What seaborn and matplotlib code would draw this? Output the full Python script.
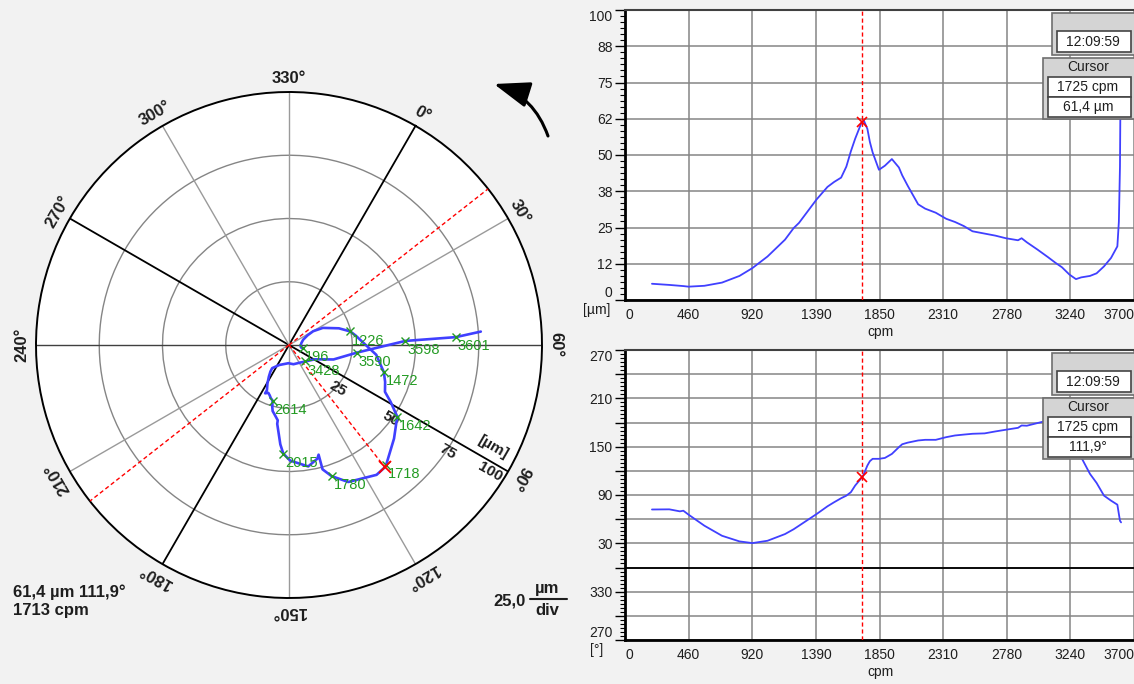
import numpy as np
import pandas as pd
import seaborn as sns
import matplotlib.pyplot as plt
from matplotlib.lines import Line2D
from matplotlib.patches import Rectangle
from matplotlib.ticker import AutoMinorLocator

# --- run-up data ---
cpm = [196, 322, 399, 424, 462, 577, 705, 832, 926, 1036, 1163, 1226, 1265, 1393,
       1472, 1520, 1571, 1609, 1642, 1673, 1718, 1725, 1736, 1762, 1780, 1800, 1846,
       1889, 1940, 1991, 2015, 2055, 2131, 2182, 2259, 2335, 2399, 2463, 2526, 2614,
       2692, 2768, 2857, 2883, 2921, 2998, 3074, 3130, 3176, 3230, 3278, 3316, 3380,
       3428, 3482, 3533, 3579, 3590, 3598, 3601, 3606]
amp_um = [5.6, 5.2, 4.9, 4.8, 4.6, 4.9, 6.0, 8.3, 11.0, 15.0, 20.8, 24.8, 26.6, 34.7,
          39.0, 40.7, 42.2, 46.0, 51.3, 55.6, 61.0, 61.4, 61.9, 59.0, 54.5, 50.9, 44.9,
          46.3, 48.6, 45.7, 43.0, 39.4, 33.0, 31.5, 30.1, 28.0, 26.9, 25.5, 23.7, 22.9,
          22.2, 21.3, 20.6, 21.3, 19.9, 17.4, 14.8, 12.8, 11.3, 8.8, 7.2, 7.8, 8.3,
          9.2, 11.6, 14.5, 18.5, 27.0, 46.0, 66.0, 76.0]
phase_deg = [72.0, 72.2, 69.7, 70.5, 65.6, 51.9, 39.4, 32.4, 30.3, 33.2, 41.5, 47.5, 51.9, 66.4,
             76.0, 81.0, 86.0, 89.2, 93.5, 101.7, 111.0, 111.9, 116.0, 126.6, 132.0, 134.9, 134.9,
             136.0, 141.0, 149.4, 153.0, 155.0, 157.7, 158.5, 158.5, 161.8, 163.9, 165.0, 166.0, 166.5,
             168.9, 171.0, 173.4, 176.3, 176.0, 179.3, 182.5, 185.0, 186.0, 176.0, 152.0, 136.9, 116.2,
             105.0, 89.2, 83.0, 78.0, 66.4, 58.0, 57.3, 56.0]

# speeds tagged on the polar plot
tag_cpm = [196, 1226, 1472, 1642, 1718, 1780, 2015, 2614, 3428, 3590, 3598, 3601]

# cursor
cursor_cpm = 1725
cursor_amp = 61.4
cursor_phase = 111.9
cursor_time = "12:09:59"

# tick labels
cpm_labels = ['0', '460', '920', '1390', '1850', '2310', '2780', '3240', '3700']
amp_labels = ['0', '12', '25', '38', '50', '62', '75', '88', '100']
phase_labels = ['270', '', '330', '', '30', '', '90', '', '150', '', '210', '', '270']
polar_angles = list(range(0, 360, 30))
ring_values = [25, 50, 75, 100]

df = pd.DataFrame({'cpm': cpm, 'amp': amp_um, 'phase': phase_deg})
df['theta'] = np.deg2rad(df['phase'])

W, H = 1134, 684
BLUE = '#4040ff'
GREEN = '#239b23'
GRID = '#858585'
TXT = '#1e1e1e'

sns.set_style('white')
plt.rcParams['font.family'] = ['Liberation Sans', 'DejaVu Sans']

fig = plt.figure(figsize=(W / 100, H / 100), dpi=100, facecolor='#f2f2f2')


def fx(x):
    return x / W


def fy(y):
    return 1 - y / H


# --- polar orbit plot ---
cx, cy, R = 289, 345, 253
ax = fig.add_axes([fx(cx - R), fy(cy + R), 2 * R / W, 2 * R / H], projection='polar')
ax.set_facecolor('white')
ax.set_theta_zero_location('N', offset=-30)
ax.set_theta_direction(-1)
sns.lineplot(data=df, x='theta', y='amp', ax=ax, sort=False, estimator=None,
             color=BLUE, lw=1.9, zorder=4)
ax.set_xlabel('')
ax.set_ylabel('')
ax.set_xticks([])
ax.set_rgrids(ring_values[:-1], labels=[])
ax.yaxis.grid(True, color=GRID, lw=1)
ax.spines['polar'].set_color('black')
ax.spines['polar'].set_linewidth(1.4)

for a in polar_angles:
    t = np.deg2rad(a)
    if a in (0, 90, 180, 270):
        col, lw = 'black', 1.3
    elif a in (60, 240):
        col, lw = '#404040', 1.0
    else:
        col, lw = '#9a9a9a', 1.0
    ax.plot([t, t], [0, 100], color=col, lw=lw, zorder=1)
    ax.text(t, 105.5, f'{a}°', rotation=-(a + 30), ha='center', va='center',
            fontsize=12, fontweight='bold', color=TXT)

# ring scale along the 90° spoke
spoke = np.deg2rad(90)
for v, rr in zip(ring_values, [25.5, 49.5, 75.5, 94]):
    off = (-4.7, -8.1) if v < 100 else (-3.2, -5.6)
    ax.annotate(str(v), xy=(spoke, rr), xytext=off, textcoords='offset points',
                rotation=-30, ha='center', va='center', fontsize=11,
                fontweight='bold', color=TXT)
ax.annotate('[µm]', xy=(spoke, 90), xytext=(5, 8.7), textcoords='offset points',
            rotation=-30, ha='center', va='center', fontsize=11,
            fontweight='bold', color=TXT)

# cursor on polar
tc = np.deg2rad(cursor_phase)
tp = np.deg2rad(cursor_phase - 90)
ax.plot([tc, tc], [0, cursor_amp], color='red', ls=(0, (3, 2)), lw=1, zorder=3)
ax.plot([tp, tp], [0, 100], color='red', ls=(0, (3, 2)), lw=1, zorder=3)
ax.plot([tp + np.pi, tp + np.pi], [0, 100], color='red', ls=(0, (3, 2)), lw=1, zorder=3)

tags = df[df['cpm'].isin(tag_cpm)]
ax.plot(tags['theta'], tags['amp'], 'x', color=GREEN, ms=6, mew=1, ls='none', zorder=5)
for _, row in tags.iterrows():
    ax.annotate(str(int(row['cpm'])), xy=(row['theta'], row['amp']), xytext=(1.5, -1.5),
                textcoords='offset points', ha='left', va='top', color=GREEN, fontsize=10.5,
                zorder=6)
ax.plot(tc, cursor_amp, marker='x', color='red', ms=8, mew=1.3, zorder=6)
ax.set_rlim(0, 100)

# rotation arrow
ax.annotate('', xy=(494, H - 84), xycoords='figure pixels',
            xytext=(548, H - 136), textcoords='figure pixels',
            arrowprops=dict(arrowstyle='-|>,head_length=1.1,head_width=0.4',
                            connectionstyle='arc3,rad=0.25', color='black', lw=2.2,
                            mutation_scale=20, shrinkA=0, shrinkB=0),
            annotation_clip=False)

# readouts
fig.text(fx(13), fy(597), f'{cursor_amp:.1f} µm {cursor_phase:.1f}°'.replace('.', ','),
         fontsize=12, fontweight='bold', color=TXT, va='baseline')
fig.text(fx(13), fy(615), '1713 cpm', fontsize=12, fontweight='bold', color=TXT, va='baseline')
fig.text(fx(493), fy(606), '25,0', fontsize=12, fontweight='bold', color=TXT, va='baseline')
fig.text(fx(547), fy(593), 'µm', fontsize=12, fontweight='bold', color=TXT, va='baseline', ha='center')
fig.text(fx(547), fy(615), 'div', fontsize=12, fontweight='bold', color=TXT, va='baseline', ha='center')
fig.add_artist(Line2D([fx(530), fx(567)], [fy(598.5), fy(598.5)], color=TXT, lw=1.5,
                      transform=fig.transFigure))


# --- bode plots ---
def bode(top, ycol, ylim, labels, unit, cursor_val, value_text):
    b = fig.add_axes([fx(625), fy(top + 290), (W - 625) / W, 290 / H])
    b.set_facecolor('white')
    sns.lineplot(data=df, x='cpm', y=ycol, ax=b, sort=False, estimator=None,
                 color=BLUE, lw=1.3, zorder=3)
    b.set_xlim(0, 3700)
    b.set_ylim(*ylim)
    b.set_xticks(np.linspace(0, 3700, len(cpm_labels)))
    xl = b.set_xticklabels(cpm_labels)
    xl[0].set_ha('left')
    xl[-1].set_ha('right')
    b.set_yticks(np.linspace(ylim[0], ylim[1], len(labels)))
    yl = b.set_yticklabels(labels)
    yl[0].set_va('bottom')
    yl[-1].set_va('top')
    b.yaxis.set_minor_locator(AutoMinorLocator(6))
    b.tick_params(axis='x', bottom=False, length=0, pad=6, labelsize=10, labelcolor=TXT)
    b.tick_params(axis='y', which='both', left=True, direction='out', color='black')
    b.tick_params(axis='y', which='major', length=7, width=1, pad=2,
                  labelsize=10, labelcolor=TXT)
    b.tick_params(axis='y', which='minor', length=3.5, width=0.8)
    b.grid(True, which='major', color=GRID, lw=1.1)
    b.set_xlabel('')
    b.set_ylabel('')
    for s in ('left', 'bottom'):
        b.spines[s].set_color('black')
        b.spines[s].set_linewidth(2)
    b.spines['top'].set_color('#404040')
    b.spines['top'].set_linewidth(1.5)
    b.spines['right'].set_visible(False)
    b.axvline(cursor_cpm, color='red', ls=(0, (3, 2)), lw=1, zorder=4)
    b.plot(cursor_cpm, cursor_val, marker='x', color='red', ms=7, mew=1.2, zorder=5)

    fig.text(fx(597), fy(top + 300), unit, fontsize=10, color=TXT, ha='center', va='center')
    fig.text(fx(880), fy(top + 322), 'cpm', fontsize=10, color=TXT, ha='center', va='center')

    # cursor readout boxes
    def rect(x0, y0, x1, y1, fc, ec):
        fig.add_artist(Rectangle((fx(x0), fy(y1)), (x1 - x0) / W, (y1 - y0) / H,
                                 transform=fig.transFigure, fc=fc, ec=ec, lw=1.2, zorder=10))

    rect(1052, top + 3, 1136, top + 45, '#d4d4d4', '#6e6e6e')
    rect(1057, top + 21, 1131, top + 42, 'white', '#444444')
    fig.text(fx(1093), fy(top + 31.5), cursor_time, fontsize=10, color=TXT,
             ha='center', va='center', zorder=11)
    rect(1043, top + 48, 1136, top + 108.5, '#d4d4d4', '#6e6e6e')
    fig.text(fx(1088), fy(top + 57), 'Cursor', fontsize=10, color=TXT,
             ha='center', va='center', zorder=11)
    rect(1048, top + 67, 1131, top + 87, 'white', '#444444')
    fig.text(fx(1088), fy(top + 77), f'{cursor_cpm} cpm', fontsize=10, color=TXT,
             ha='center', va='center', zorder=11)
    rect(1048, top + 87, 1131, top + 107, 'white', '#444444')
    fig.text(fx(1088), fy(top + 97), value_text, fontsize=10, color=TXT,
             ha='center', va='center', zorder=11)
    return b


ax1 = bode(10, 'amp', (0, 100), amp_labels, '[µm]', cursor_amp,
           f'{cursor_amp:.1f} µm'.replace('.', ','))
ax2 = bode(350, 'phase', (-90, 270), phase_labels, '[°]', cursor_phase,
           f'{cursor_phase:.1f}°'.replace('.', ','))
ax2.axhline(0, color='black', lw=1.3, zorder=2)

fig.savefig('out.png', dpi=100, facecolor=fig.get_facecolor())
